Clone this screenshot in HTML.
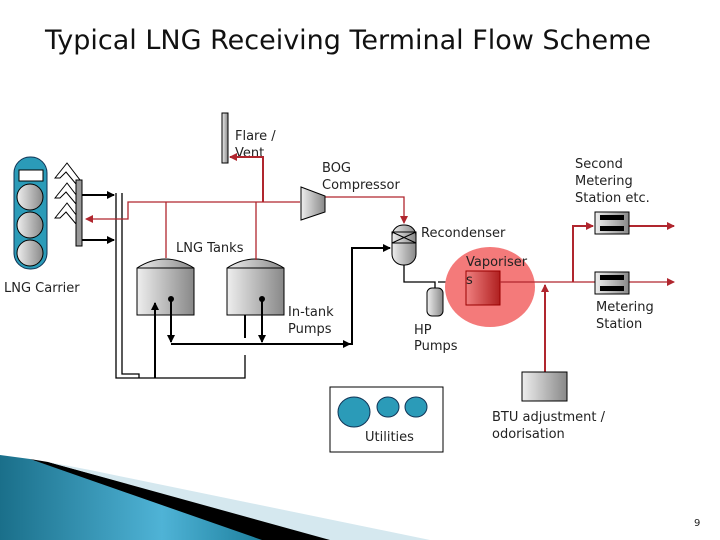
<!DOCTYPE html><html><head><style>body{margin:0;background:#fff}svg{display:block}text{font-family:"DejaVu Sans","Liberation Sans",sans-serif;font-size:13px;fill:#222}</style></head><body>
<svg width="720" height="540" viewBox="0 0 720 540">
<defs>
<linearGradient id="g" x1="0" x2="1"><stop offset="0" stop-color="#eee"/><stop offset="1" stop-color="#888"/></linearGradient>
<linearGradient id="r" x1="0" x2="1"><stop offset="0" stop-color="#f08080"/><stop offset="1" stop-color="#b02020"/></linearGradient>
<linearGradient id="b" x1="0" x2="1"><stop offset="0" stop-color="#1a6f8a"/><stop offset=".6" stop-color="#4fb3d6"/><stop offset="1" stop-color="#1a7c9a"/></linearGradient>
<marker id="ak" markerWidth="8" markerHeight="8" refX="7" refY="4" orient="auto" markerUnits="userSpaceOnUse"><path d="M0,0L8,4L0,8z" fill="#000"/></marker>
<marker id="ar" markerWidth="8" markerHeight="8" refX="7" refY="4" orient="auto" markerUnits="userSpaceOnUse"><path d="M0,0L8,4L0,8z" fill="#b0262e"/></marker>
</defs>
<text x="348" y="49" text-anchor="middle" style="font-size:27px;fill:#111">Typical LNG Receiving Terminal Flow Scheme</text>
<!-- carrier -->
<rect x="14" y="157" width="33" height="112" rx="16" fill="#2b9bb8" stroke="#135"/>
<rect x="19" y="170" width="24" height="11" fill="#fff" stroke="#000"/>
<circle cx="30" cy="197" r="13" fill="url(#g)" stroke="#000"/><circle cx="30" cy="225" r="13" fill="url(#g)" stroke="#000"/><circle cx="30" cy="253" r="13" fill="url(#g)" stroke="#000"/>
<g fill="#fff" stroke="#000"><path d="M55,178L67,163L80,180L76,184L66,172L60,178z"/><path d="M55,198L67,183L80,200L76,204L66,192L60,198z"/><path d="M55,218L67,203L80,220L76,224L66,212L60,218z"/></g>
<rect x="76" y="180" width="6" height="66" fill="#999" stroke="#000"/>
<text x="4" y="292">LNG Carrier</text>
<!-- tanks -->
<path d="M137,268Q165,250 194,268V315H137z" fill="url(#g)" stroke="#000"/>
<path d="M137,268H194" stroke="#000"/>
<path d="M227,268Q255,250 284,268V315H227z" fill="url(#g)" stroke="#000"/>
<path d="M227,268H284" stroke="#000"/>
<!-- black lines -->
<g stroke="#000" fill="none" stroke-width="1.3">
<line x1="82" y1="195" x2="114" y2="195" stroke-width="2" marker-end="url(#ak)"/>
<line x1="82" y1="240" x2="114" y2="240" stroke-width="2" marker-end="url(#ak)"/>
<polyline points="116,193 116,378 245,378 245,355"/>
<polyline points="122,193 122,374 139,374 139,378"/>
<line x1="155" y1="378" x2="155" y2="303" stroke-width="2" marker-end="url(#ak)"/>
<line x1="171" y1="299" x2="171" y2="342" stroke-width="2" marker-end="url(#ak)"/>
<line x1="262" y1="299" x2="262" y2="342" stroke-width="2" marker-end="url(#ak)"/>
<line x1="245" y1="315" x2="245" y2="338" stroke-width="2"/>
<line x1="171" y1="344" x2="350" y2="344" stroke-width="2" marker-end="url(#ak)"/>
<polyline points="350,344 352,344 352,248 390,248" stroke-width="2" marker-end="url(#ak)"/>
<polyline points="404,265 404,282 435,282 435,288"/>
<polyline points="438,282 466,282"/>
</g>
<circle cx="171" cy="299" r="3" fill="#000"/><circle cx="262" cy="299" r="3" fill="#000"/>
<text x="176" y="252">LNG Tanks</text>
<text x="288" y="316">In-tank</text><text x="288" y="333">Pumps</text>
<!-- flare -->
<rect x="222" y="113" width="6" height="50" fill="url(#g)" stroke="#000"/>
<text x="235" y="140">Flare /</text><text x="235" y="157">Vent</text>
<!-- red lines -->
<g stroke="#b0262e" fill="none" stroke-width="1.3">
<polyline points="300,202 128,202 128,219 86,219" marker-end="url(#ar)"/>
<line x1="166" y1="202" x2="166" y2="258"/><line x1="256" y1="202" x2="256" y2="260"/>
<polyline points="263,202 263,157 230,157" stroke-width="2" marker-end="url(#ar)"/>
<polyline points="325,197 404,197 404,223" marker-end="url(#ar)"/>
</g>
<!-- compressor -->
<path d="M301,187L325,196V212L301,220z" fill="url(#g)" stroke="#000"/>
<text x="322" y="172">BOG</text><text x="322" y="189">Compressor</text>
<!-- recondenser -->
<rect x="392" y="225" width="24" height="40" rx="11" fill="url(#g)" stroke="#000"/>
<rect x="392" y="232" width="24" height="11" fill="none" stroke="#000"/><path d="M392,232L416,243M416,232L392,243" stroke="#000"/>
<text x="421" y="237">Recondenser</text>
<!-- HP pump -->
<rect x="427" y="288" width="16" height="28" rx="5" fill="url(#g)" stroke="#000"/>
<text x="414" y="334">HP</text><text x="414" y="350">Pumps</text>
<!-- vaporiser -->
<ellipse cx="490" cy="287" rx="45" ry="40" fill="#f47a7a"/>
<rect x="466" y="271" width="34" height="34" fill="url(#r)" stroke="#900"/>
<text x="466" y="266">Vaporiser</text><text x="466" y="284">s</text>
<g stroke="#b0262e" fill="none" stroke-width="2">
<line x1="500" y1="282" x2="674" y2="282" stroke-width="1.3" marker-end="url(#ar)"/>
<line x1="545" y1="372" x2="545" y2="285" marker-end="url(#ar)"/>
<polyline points="573,282 573,226 593,226" marker-end="url(#ar)"/>
<line x1="629" y1="226" x2="674" y2="226" marker-end="url(#ar)"/>
</g>
<rect x="595" y="212" width="34" height="22" fill="url(#g)" stroke="#000"/><rect x="600" y="215" width="24" height="5" fill="#000"/><rect x="600" y="226" width="24" height="5" fill="#000"/>
<rect x="595" y="272" width="34" height="22" fill="url(#g)" stroke="#000"/><rect x="600" y="275" width="24" height="5" fill="#000"/><rect x="600" y="286" width="24" height="5" fill="#000"/>
<text x="575" y="168">Second</text><text x="575" y="185">Metering</text><text x="575" y="202">Station etc.</text>
<text x="596" y="311">Metering</text><text x="596" y="328">Station</text>
<rect x="522" y="372" width="45" height="29" fill="url(#g)" stroke="#000"/>
<text x="492" y="421">BTU adjustment /</text><text x="492" y="438">odorisation</text>
<!-- utilities -->
<rect x="330" y="387" width="113" height="65" fill="#fff" stroke="#000"/>
<ellipse cx="354" cy="412" rx="16" ry="15" fill="#2b9bb8" stroke="#135"/><ellipse cx="388" cy="407" rx="11" ry="10" fill="#2b9bb8" stroke="#135"/><ellipse cx="416" cy="407" rx="11" ry="10" fill="#2b9bb8" stroke="#135"/>
<text x="365" y="441">Utilities</text>
<!-- swoosh -->
<path d="M0,455L30,459L270,540H0z" fill="url(#b)"/>
<path d="M30,459L48,462L335,540H262z" fill="#000"/>
<path d="M48,462L90,470L430,540H330z" fill="#d5e8ef"/>
<text x="694" y="526" style="font-size:10px">9</text>
</svg></body></html>
